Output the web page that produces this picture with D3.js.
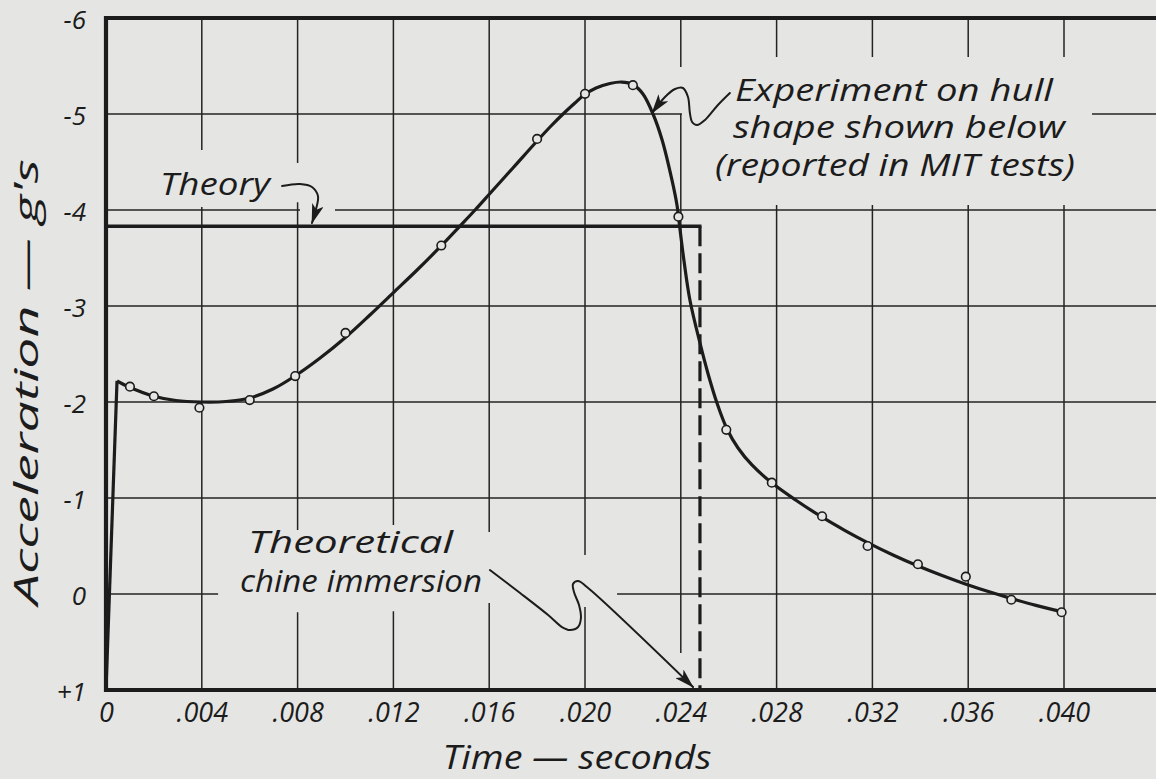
<!DOCTYPE html>
<html><head><meta charset="utf-8">
<script src="https://cdn.jsdelivr.net/npm/d3@7"></script>
<style>
html,body{margin:0;padding:0;background:#e5e5e3;}
svg{display:block;}
text{font-family:"Open Sans","DejaVu Sans",sans-serif;font-style:italic;fill:#1c1c1c;}
</style></head><body>
<svg id="chart" width="1156" height="779"></svg>
<script>
// ---------- data ----------
const xTicks = [0,0.004,0.008,0.012,0.016,0.020,0.024,0.028,0.032,0.036,0.040];
const xTickLabels = ["0",".004",".008",".012",".016",".020",".024",".028",".032",".036",".040"];
const yTicks = [-6,-5,-4,-3,-2,-1,0,1];
const yTickLabels = ["-6","-5","-4","-3","-2","-1","0","+1"];

// experimental points (time s, acceleration g's; negative = upward on chart)
const expTime  = [0.0010,0.0020,0.0039,0.0060,0.0079,0.0100,0.0140,0.0180,0.0200,0.0220,0.0239,0.0259,0.0278,0.0299,0.0318,0.0339,0.0359,0.0378,0.0399];
const expAccel = [-2.16,-2.06,-1.94,-2.02,-2.27,-2.72,-3.63,-4.74,-5.21,-5.30,-3.93,-1.71,-1.16,-0.81,-0.50,-0.31,-0.18,0.06,0.19];

const riseTime  = [0, 0.00046];
const riseAccel = [1, -2.22];
const fitTime  = [0.00046,0.00096,0.00196,0.00292,0.00397,0.00501,0.00601,0.00697,0.00789,0.00894,0.01002,0.01102,0.01198,0.01299,0.01395,0.01478,0.01541,0.01603,0.01699,0.0180,0.01858,0.01917,0.01958,0.01996,0.02046,0.02104,0.02154,0.0220,0.02242,0.02284,0.02322,0.02363,0.02384,0.02397,0.02414,0.02438,0.0248,0.02514,0.02551,0.02593,0.02639,0.02697,0.02781,0.02881,0.02985,0.03086,0.03182,0.03286,0.03386,0.03491,0.03591,0.03691,0.03775,0.03883,0.03992];
const fitAccel = [-2.219,-2.156,-2.063,-2.016,-2.000,-2.005,-2.042,-2.135,-2.271,-2.458,-2.677,-2.906,-3.135,-3.375,-3.615,-3.833,-4.000,-4.172,-4.438,-4.719,-4.875,-5.021,-5.115,-5.198,-5.271,-5.318,-5.333,-5.307,-5.208,-5.000,-4.729,-4.313,-4.052,-3.792,-3.458,-3.063,-2.615,-2.292,-1.990,-1.719,-1.521,-1.344,-1.156,-0.977,-0.808,-0.661,-0.533,-0.407,-0.297,-0.193,-0.102,-0.020,0.043,0.118,0.184];

// theory
const theoryAccel = -3.83;
const chineTime = 0.0248;

// ---------- layout ----------
const W = 1156, H = 779;
const svg = d3.select("#chart");
const x = d3.scaleLinear().domain([0, 0.040]).range([106, 1064]);
const y = d3.scaleLinear().domain([-6, 1]).range([18, 690]);
const tEnd = x.invert(W);
const ink = "#1c1c1c", paper = "#e5e5e3";
const FONT = '"Open Sans","DejaVu Sans",sans-serif';

svg.append("rect").attr("width", W).attr("height", H).attr("fill", paper);

// grid with gaps left for lettering
const vGrid = [0.004,0.008,0.012,0.016,0.020,0.024,0.028,0.032,0.036,0.040];
const vGaps = {
  "0.004": [[-4.625,-4.03]],
  "0.008": [[-4.49,-4.08],[-0.667,0.19]],
  "0.012": [[-0.72,0.18]],
  "0.016": [[-0.646,0.094]],
  "0.02":  [[-0.406,0.135]],
  "0.024": [[-5.49,-5.0],[0.615,1.0]],
  "0.028": [[-5.594,-4.052]],
  "0.032": [[-5.594,-4.052]],
  "0.036": [[-5.594,-4.052]],
  "0.04":  [[-5.594,-4.052]]
};
const hGrid = [-5,-4,-3,-2,-1,0];
const hGaps = {
  "-5": [[0.02405,0.04117]],
  "-4": [[0.0081,0.00956]],
  "0":  [[0.00468,0.02134]]
};
function pieces(a, b, gaps) {
  const out = []; let s = a;
  (gaps || []).slice().sort((p,q)=>p[0]-q[0]).forEach(g => {
    if (g[0] > s) out.push([s, g[0]]);
    s = Math.max(s, g[1]);
  });
  if (s < b) out.push([s, b]);
  return out;
}
const grid = svg.append("g").attr("stroke", "#232323").attr("stroke-width", 1.5).attr("fill", "none");
vGrid.forEach(t => {
  pieces(-6, 1, vGaps[String(t)]).forEach(p => {
    grid.append("line").attr("x1", x(t)).attr("x2", x(t)).attr("y1", y(p[0])).attr("y2", y(p[1]));
  });
});
hGrid.forEach(a => {
  pieces(0, tEnd, hGaps[String(a)]).forEach(p => {
    grid.append("line").attr("y1", y(a)).attr("y2", y(a)).attr("x1", x(p[0])).attr("x2", x(p[1]));
  });
});

// theory line + chine immersion dashed line
svg.append("line").attr("x1", x(0)).attr("x2", x(chineTime)+1.5)
  .attr("y1", y(theoryAccel)).attr("y2", y(theoryAccel))
  .attr("stroke", ink).attr("stroke-width", 3.6);
svg.append("line").attr("x1", x(chineTime)).attr("x2", x(chineTime))
  .attr("y1", y(theoryAccel)).attr("y2", y(1))
  .attr("stroke", ink).attr("stroke-width", 3.2).attr("stroke-dasharray", "20,7");

// experiment curve
const lineLin = d3.line().x(d => x(d[0])).y(d => y(d[1]));
const lineSmooth = d3.line().x(d => x(d[0])).y(d => y(d[1])).curve(d3.curveCatmullRom.alpha(0.5));
svg.append("path").attr("d", lineLin(d3.zip(riseTime, riseAccel)))
  .attr("fill", "none").attr("stroke", ink).attr("stroke-width", 3.2).attr("stroke-linejoin", "round");
svg.append("path").attr("d", lineSmooth(d3.zip(fitTime, fitAccel)))
  .attr("fill", "none").attr("stroke", ink).attr("stroke-width", 3.2).attr("stroke-linejoin", "round");

// points
svg.append("g").selectAll("circle").data(d3.zip(expTime, expAccel)).join("circle")
  .attr("cx", d => x(d[0])).attr("cy", d => y(d[1])).attr("r", 4.3)
  .attr("fill", paper).attr("stroke", ink).attr("stroke-width", 1.6);

// frame
svg.append("path")
  .attr("d", `M${W},${y(-6)}H${x(0)}V${y(1)}H${W}`)
  .attr("fill", "none").attr("stroke", ink).attr("stroke-width", 4.2);

// axes (labels only)
const xAxis = svg.append("g").attr("transform", `translate(0,${y(1)})`)
  .call(d3.axisBottom(x).tickValues(xTicks).tickFormat((d,i)=>xTickLabels[i]).tickSize(0).tickPadding(13));
xAxis.select(".domain").remove();
xAxis.attr("font-family", FONT).attr("font-size", 27);
xAxis.selectAll("text").attr("font-style", "italic").style("fill", ink);
const yAxis = svg.append("g").attr("transform", `translate(${x(0)},0)`)
  .call(d3.axisLeft(y).tickValues(yTicks).tickFormat((d,i)=>yTickLabels[i]).tickSize(0).tickPadding(20));
yAxis.select(".domain").remove();
yAxis.attr("font-family", FONT).attr("font-size", 26);
yAxis.selectAll("text").attr("font-style", "italic").attr("dy", "0.42em").style("fill", ink);

// axis titles
svg.append("text").attr("x", 577).attr("y", 769).attr("text-anchor", "middle")
  .attr("font-size", 32).attr("textLength", 269).attr("lengthAdjust", "spacingAndGlyphs")
  .text("Time — seconds");
svg.append("text").attr("transform", "translate(38,382) rotate(-90)").attr("text-anchor", "middle")
  .attr("font-size", 33).attr("textLength", 446).attr("lengthAdjust", "spacingAndGlyphs")
  .text("Acceleration — g's");

// annotations
function label(tx, ty, str, len) {
  svg.append("text").attr("x", tx).attr("y", ty).attr("font-size", 31)
    .attr("textLength", len).attr("lengthAdjust", "spacingAndGlyphs").text(str);
}
label(160, 195, "Theory", 110);
label(735, 101, "Experiment on hull", 318);
label(733, 138, "shape shown below", 332);
label(715, 176, "(reported in MIT tests)", 360);
label(248, 553, "Theoretical", 205);
label(240, 592, "chine immersion", 242);

// arrowhead marker
const defs = svg.append("defs");
defs.append("marker").attr("id", "ah").attr("viewBox", "0 0 20 12")
  .attr("refX", 19).attr("refY", 6).attr("markerWidth", 20).attr("markerHeight", 12)
  .attr("markerUnits", "userSpaceOnUse").attr("orient", "auto")
  .append("path").attr("d", "M0,0 L20,6 L0,12 L5,6 Z").attr("fill", ink);

const theoryArrow = [[0.00735,-4.25],[0.0081,-4.271],[0.0086,-4.24],[0.00885,-4.146],[0.00877,-4.01],[0.0086,-3.865]];
const expArrow = [[0.02605,-5.219],[0.02555,-5.094],[0.02501,-4.9375],[0.02468,-4.885],[0.02447,-4.917],[0.02438,-5.01],[0.0243,-5.177],[0.02409,-5.271],[0.02376,-5.26],[0.02334,-5.177],[0.0228,-5.01]];
const chineArrow = [[0.01603,-0.25],[0.01729,-0.01],[0.01846,0.219],[0.01904,0.344],[0.01937,0.375],[0.01971,0.344],[0.01983,0.25],[0.01975,0.115],[0.01954,-0.021],[0.0195,-0.104],[0.01971,-0.135],[0.02008,-0.073],[0.02451,0.969]];
[theoryArrow, expArrow, chineArrow].forEach(pts => {
  svg.append("path").attr("d", lineSmooth(pts)).attr("fill", "none")
    .attr("stroke", ink).attr("stroke-width", 2).attr("stroke-linecap", "round")
    .attr("marker-end", "url(#ah)");
});
</script>
</body></html>
